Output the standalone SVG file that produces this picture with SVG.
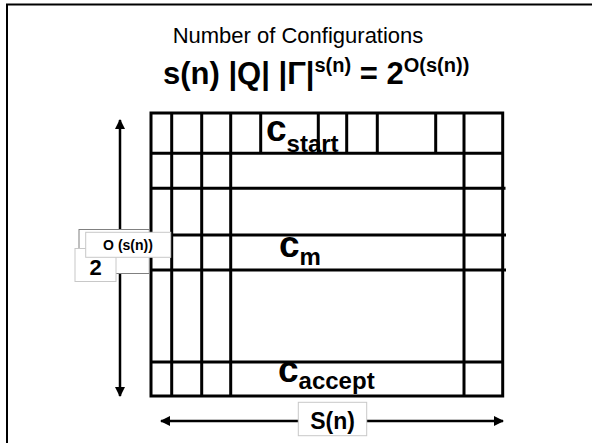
<svg xmlns="http://www.w3.org/2000/svg" width="592" height="443" viewBox="0 0 592 443">
<style>
.t{font-family:"Liberation Sans",Arial,sans-serif;fill:#000}
.b{font-weight:bold}
.g{stroke:#000;stroke-width:3;fill:none}
.box{fill:#fff;stroke:#c8c8c8;stroke-width:1}
.arr{stroke:#000;stroke-width:2.5;fill:none}
</style>
<defs>
<marker id="ah" viewBox="0 0 10 10" refX="9" refY="5" markerWidth="4.2" markerHeight="4" orient="auto-start-reverse" markerUnits="strokeWidth">
<path d="M0,0 L10,5 L0,10 Z" fill="#000"/>
</marker>
</defs>
<rect width="592" height="443" fill="#fff"/>
<path d="M7,443 V4.5 H592" fill="none" stroke="#000" stroke-width="2"/>
<g id="title">
<text class="t" x="298" y="43" font-size="22" text-anchor="middle">Number of Configurations</text>
</g>
<g id="formula">
<text class="t b" x="163" y="84" font-size="31">s(n) |Q| |Γ|<tspan font-size="20" dy="-12">s(n)</tspan><tspan dy="12"> = 2</tspan><tspan font-size="20" dy="-12">O(s(n))</tspan></text>
</g>
<g id="grid">
<rect class="g" x="151" y="113" width="351.7" height="283"/>
<path class="g" d="M171.7,113V396 M201.7,113V396 M230.7,113V396 M464,113V396 M260.7,113V153.3 M318.3,113V153.3 M346.7,113V153.3 M377.3,113V153.3 M435.7,113V153.3 M151,153.3H502.7 M151,188.3H505.5 M151,235H506 M151,270H506 M151,362H502.7"/>
</g>
<g id="c-start">
<text class="t b" x="266" y="141" font-size="37">c<tspan font-size="24" dy="11">start</tspan></text>
</g>
<g id="c-m">
<text class="t b" x="279" y="257" font-size="37">c<tspan font-size="24" dy="8">m</tspan></text>
</g>
<g id="c-accept">
<text class="t b" x="278" y="382" font-size="37">c<tspan font-size="24" dy="7">accept</tspan></text>
</g>
<g id="connectors">
<line class="arr" x1="120" y1="120" x2="120" y2="396" marker-start="url(#ah)" marker-end="url(#ah)"/>
<line class="arr" x1="161" y1="421" x2="503" y2="421" marker-start="url(#ah)" marker-end="url(#ah)"/>
</g>
<g id="height-label">
<rect x="79" y="229.5" width="70.3" height="44" fill="#fff" stroke="#808080" stroke-width="1"/>
<rect class="box" x="75" y="248.5" width="41" height="33"/>
<text class="t b" x="95.5" y="275" font-size="22" text-anchor="middle">2</text>
<rect class="box" x="85.7" y="232.3" width="85" height="25"/>
<text class="t b" x="128" y="250" font-size="14" text-anchor="middle">O (s(n))</text>
</g>
<g id="width-label">
<rect class="box" x="298.3" y="402.3" width="68.4" height="33.4"/>
<text class="t b" x="332.5" y="428.5" font-size="23" text-anchor="middle">S(n)</text>
</g>
</svg>
